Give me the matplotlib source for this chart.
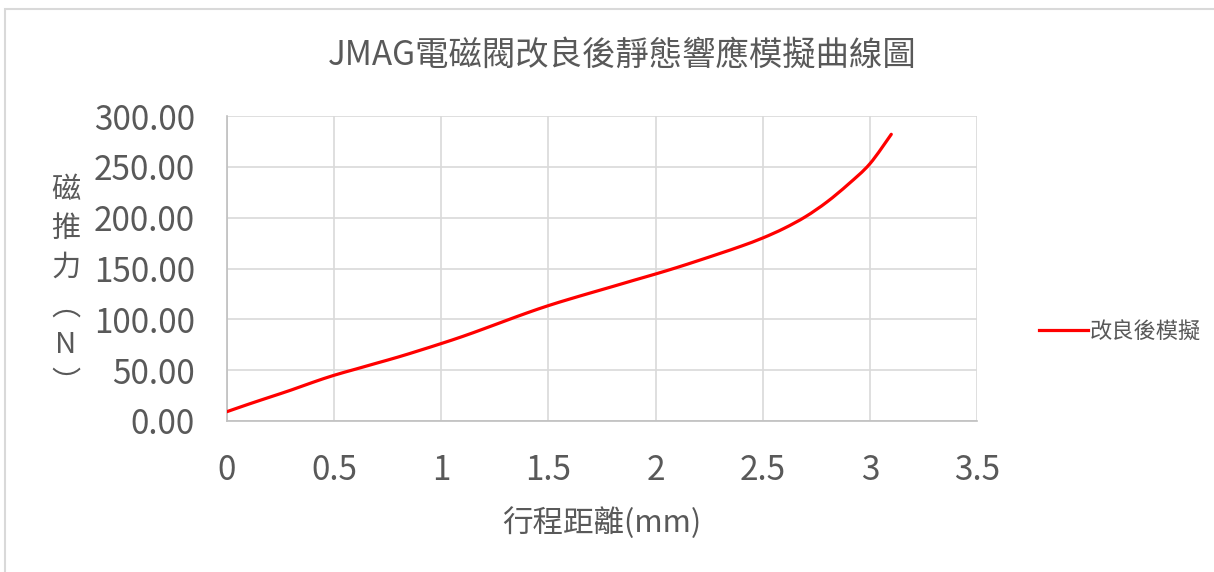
import numpy as np
import matplotlib
matplotlib.use("Agg")
import matplotlib.pyplot as plt
from matplotlib.patches import Rectangle, PathPatch
from matplotlib.path import Path
from matplotlib.lines import Line2D
from matplotlib.ticker import FormatStrFormatter, FuncFormatter

plt.rcParams['font.family'] = ['Noto Sans CJK TC', 'DejaVu Sans']

# stroke (mm) vs magnetic force (N)
stroke = [0.0, 0.1, 0.2, 0.3, 0.4, 0.5, 0.6, 0.7, 0.8, 0.9, 1.0,
          1.1, 1.2, 1.3, 1.4, 1.5, 1.6, 1.7, 1.8, 1.9, 2.0,
          2.1, 2.2, 2.3, 2.4, 2.5, 2.6, 2.7, 2.8, 2.9, 3.0, 3.1]
force = [9.2, 16.5, 23.5, 30.5, 38.0, 45.0, 51.0, 57.0, 63.0, 69.5, 76.2,
         83.2, 90.8, 98.6, 106.3, 113.5, 120.0, 126.2, 132.3, 138.5, 144.6,
         151.0, 157.8, 164.8, 172.0, 180.0, 189.5, 201.0, 215.5, 233.0, 253.0, 282.0]

title = "JMAG電磁閥改良後靜態響應模擬曲線圖"
series_name = "改良後模擬"
x_label = "行程距離(mm)"
y_label = "磁\n推\n力\n︵\nN\n︶"

txt = "#595959"
grid = "#d9d9d9"


def smooth_path(xs, ys, t=1 / 6):
    # Excel-style smoothed line: Catmull-Rom segments as cubic Beziers
    p = np.column_stack([xs, ys]).astype(float)
    verts = [p[0]]
    codes = [Path.MOVETO]
    n = len(p)
    for i in range(n - 1):
        p0 = p[i - 1] if i > 0 else p[i]
        p3 = p[i + 2] if i + 2 < n else p[i + 1]
        c1 = p[i] + (p[i + 1] - p0) * t
        c2 = p[i + 1] - (p3 - p[i]) * t
        verts += [c1, c2, p[i + 1]]
        codes += [Path.CURVE4] * 3
    return Path(verts, codes)


fig = plt.figure(figsize=(12.14, 5.72), dpi=100)
fig.patches.append(Rectangle((5 / 1214, -0.01), 1.1, 1 - 9 / 572 + 0.01,
                             transform=fig.transFigure, fill=False,
                             edgecolor=grid, linewidth=1.5))

ax = fig.add_axes([227 / 1214, 1 - 421 / 572, 750 / 1214, 305 / 572])
ax.add_patch(PathPatch(smooth_path(stroke, force), fill=False, edgecolor="red",
                       linewidth=2.3, capstyle="round", zorder=3))

ax.set_xlim(0, 3.5)
ax.set_ylim(0, 300)
ax.set_xticks(np.arange(0, 3.51, 0.5))
ax.set_yticks(np.arange(0, 301, 50))
ax.xaxis.set_major_formatter(FuncFormatter(lambda v, p: f"{v:g}"))
ax.yaxis.set_major_formatter(FormatStrFormatter("%.2f"))
ax.grid(True, color=grid, linewidth=1.2)
ax.set_axisbelow(True)
for s in ["top", "right"]:
    ax.spines[s].set_visible(False)
for s in ["left", "bottom"]:
    ax.spines[s].set_color("#bfbfbf")
    ax.spines[s].set_linewidth(1.2)
ax.tick_params(length=0, labelsize=24, labelcolor=txt)
ax.tick_params(axis="x", pad=23)
ax.tick_params(axis="y", pad=23)

fig.text(622 / 1214, 1 - 55 / 572, title, fontsize=24, color=txt,
         ha="center", va="center")
ax.set_xlabel(x_label, fontsize=22, color=txt, labelpad=14)
ax.set_ylabel(y_label, fontsize=21, color=txt, rotation=0, linespacing=1.38,
              va="center", ha="center")
ax.yaxis.set_label_coords(-0.215, 0.44)

handle = Line2D([], [], color="red", linewidth=2.3)
fig.legend(handles=[handle], labels=[series_name], loc="center left",
           bbox_to_anchor=(1030 / 1214, 1 - 331 / 572),
           frameon=False, fontsize=16, labelcolor=txt, handlelength=2.2,
           handletextpad=0.1, borderaxespad=0)

fig.savefig("out.png", dpi=100)
